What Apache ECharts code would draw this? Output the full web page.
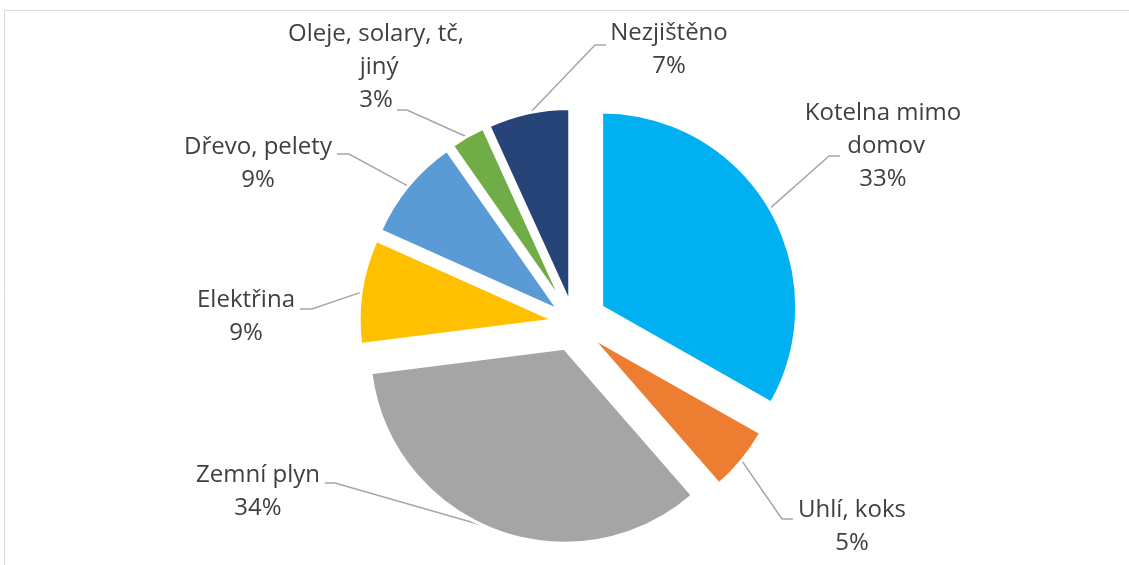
<!DOCTYPE html>
<html>
<head>
<meta charset="utf-8">
<script src="https://cdn.jsdelivr.net/npm/echarts@6/dist/echarts.min.js"></script>
<style>
  html, body { margin: 0; padding: 0; background: #fff; }
  #chart { width: 1129px; height: 565px; }
</style>
</head>
<body>
<div id="chart"></div>
<script>
// Zdroj vytápění – podíly v % (popisky zaokrouhleně)
const categories = ['Kotelna mimo domov', 'Uhlí, koks', 'Zemní plyn', 'Elektřina', 'Dřevo, pelety', 'Oleje, solary, tč, jiný', 'Nezjištěno'];
const shares = [33.2, 5.4, 34.4, 8.7, 8.6, 2.9, 6.8];
const colors = ['#00B0F0', '#ED7D31', '#A5A5A5', '#FFC000', '#5B9BD5', '#70AD47', '#264478'];

// vysunutí jednotlivých dílků (px)
const explode = [32, 22, 27, 20, 20, 20, 20];

// umístění popisků (střed bloku textu), šířka pro zalomení
const labelPos = [[883, 146], [852, 527], [258, 492], [246, 317], [258, 164], [376, 67], [669, 50]];
const labelWidth = [160, 200, 200, 200, 200, 190, 200];
// konec vodicí čáry u popisku [x, y, délka vodorovného úseku]
const leaderEnd = [[840, 156, -11], [793, 519, -11], [325, 483, 10], [300, 309, 12], [337, 154, 12], [397, 110, 10], [606, 45, -11]];

const CX = 574, CY = 323, R = 195;

const chart = echarts.init(document.getElementById('chart'));

const total = shares.reduce((a, b) => a + b, 0);

// každý dílek jako vlastní série, posunutá od středu (vysunutý graf)
const series = [];
let acc = 0;
shares.forEach((v, i) => {
  const mid = (acc + v / 2) / total * 2 * Math.PI;
  acc += v;
  const sx = Math.sin(mid), sy = -Math.cos(mid);
  const cx = CX + explode[i] * sx;
  const cy = CY + explode[i] * sy;
  series.push({
    type: 'pie',
    center: [cx, cy],
    radius: R,
    startAngle: 90,
    clockwise: true,
    percentPrecision: 0,
    avoidLabelOverlap: false,
    silent: true,
    emphasis: { disabled: true },
    label: {
      formatter: '{b}\n{d}%',
      fontFamily: 'Open Sans',
      fontSize: 24,
      lineHeight: 33,
      color: '#404040',
      align: 'center',
      overflow: 'break'
    },
    labelLine: {
      length: 20,
      length2: 10,
      lineStyle: { color: '#a6a6a6', width: 1.5 }
    },
    labelLayout: function (params) {
      if (params.dataIndex !== i) return {};
      const p = labelPos[i];
      const e = leaderEnd[i];
      const r0 = R - 1.5;
      return {
        x: p[0], y: p[1], align: 'center', verticalAlign: 'middle',
        labelLinePoints: [[cx + r0 * sx, cy + r0 * sy], [e[0] + e[2], e[1]], [e[0], e[1]]]
      };
    },
    data: categories.map((name, j) => j === i ? {
      name: name,
      value: shares[j],
      itemStyle: { color: colors[j], borderColor: '#fff', borderWidth: 3 },
      label: { show: true, width: labelWidth[j] },
      labelLine: { show: true }
    } : {
      name: name,
      value: shares[j],
      itemStyle: { color: 'rgba(0,0,0,0)', borderWidth: 0 },
      label: { show: false },
      labelLine: { show: false }
    })
  });
});

const option = {
  animation: false,
  graphic: [{
    type: 'rect',
    shape: { x: 4.5, y: 10.5, width: 1200, height: 700 },
    style: { fill: 'none', stroke: '#d9d9d9', lineWidth: 1 },
    silent: true
  }],
  series: series
};

chart.setOption(option);
</script>
</body>
</html>
